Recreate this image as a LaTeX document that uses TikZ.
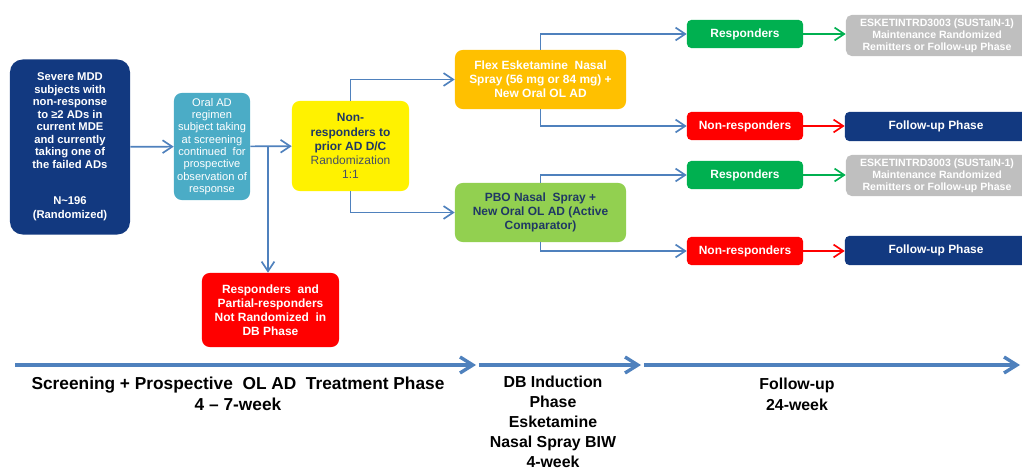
\documentclass[tikz,border=0pt]{standalone}
\usepackage{fontspec}
\setmainfont{Liberation Sans}
\usetikzlibrary{arrows.meta,calc}

\definecolor{navy}{RGB}{18,57,128}
\definecolor{darknavy}{RGB}{31,56,100}
\definecolor{teal}{RGB}{75,172,198}
\definecolor{orangebox}{RGB}{255,192,0}
\definecolor{lightgreen}{RGB}{146,208,80}
\definecolor{greenbox}{RGB}{0,176,80}
\definecolor{graybox}{RGB}{191,191,191}
\definecolor{lineblue}{RGB}{79,129,189}
\definecolor{randgray}{RGB}{70,80,100}

\begin{document}
\begin{tikzpicture}[x=0.025cm, y=-0.025cm,
        box/.style={rectangle, rounded corners=5.5pt, align=center, inner sep=1pt,
                    text=white, font=\bfseries\fontsize{8.5}{10}\selectfont},
        smallbox/.style={box, rounded corners=3pt, minimum width=2.9cm, minimum height=0.7cm},
        arr/.style={draw=lineblue, line width=1.2pt, -{Straight Barb[length=2.4mm,width=3.2mm]}},
        timeline/.style={draw=lineblue, line width=2.4pt, -{Straight Barb[length=3.2mm,width=4mm]}},
        phase/.style={align=center, font=\bfseries\fontsize{11.3}{15}\selectfont}
    ]
        \useasboundingbox (0,0) rectangle (1022,473);
        \clip (0,0) rectangle (1022,473);

        % Screening
        \node[box, fill=navy, rounded corners=9pt, minimum width=3cm, minimum height=4.375cm,
              font=\bfseries\fontsize{8}{8.9}\selectfont] (mdd) at (70,147)
              {Severe MDD\\subjects with\\non-response\\to ≥2 ADs in\\current MDE\\and currently\\taking one of\\the failed ADs\\[17pt]N\textasciitilde196\\[1pt](Randomized)};
        \node[box, fill=teal, minimum width=1.9cm, minimum height=2.675cm,
              font=\fontsize{7.9}{8.8}\selectfont] (oral) at (212,146.5)
              {Oral AD\\regimen\\subject taking\\at screening\\continued\ \ for\\prospective\\observation of\\response};
        \node[box, fill=yellow, text=darknavy, minimum width=2.925cm, minimum height=2.25cm] (nonresp) at (350.5,146)
              {Non-\\responders to\\prior AD D/C\\\textcolor{randgray}{\mdseries Randomization}\\\textcolor{randgray}{\mdseries 1:1}};
        \node[box, fill=red, minimum width=3.425cm, minimum height=1.85cm] (partial) at (270.5,310)
              {Responders\ \ and\\Partial-responders\\Not Randomized\ \ in\\DB Phase};
        \coordinate (split) at (268,146);

        % Induction arms
        \node[box, fill=orangebox, minimum width=4.275cm, minimum height=1.475cm] (flex) at (540.5,79.5)
              {Flex Esketamine\ \ Nasal\\Spray (56 mg or 84 mg) +\\New Oral OL AD};
        \node[box, fill=lightgreen, text=darknavy, minimum width=4.275cm, minimum height=1.475cm] (pbo) at (540.5,212.5)
              {PBO Nasal\ \ Spray +\\New Oral OL AD (Active\\Comparator)};

        % Outcomes
        \node[smallbox, fill=greenbox] (resp1) at (745,34) {Responders};
        \node[smallbox, fill=red] (non1) at (745,126) {Non-responders};
        \node[smallbox, fill=greenbox] (resp2) at (745,175) {Responders};
        \node[smallbox, fill=red] (non2) at (745,251) {Non-responders};

        \node[box, fill=graybox, rounded corners=4pt, minimum width=4.55cm, minimum height=1.025cm,
              font=\bfseries\fontsize{7.5}{8.6}\selectfont] (sust1) at (937,35.5)
              {ESKETINTRD3003 (SUSTaIN-1)\\Maintenance Randomized\\Remitters or Follow-up Phase};
        \node[box, fill=graybox, rounded corners=4pt, minimum width=4.55cm, minimum height=1.025cm,
              font=\bfseries\fontsize{7.5}{8.6}\selectfont] (sust2) at (937,175.5)
              {ESKETINTRD3003 (SUSTaIN-1)\\Maintenance Randomized\\Remitters or Follow-up Phase};
        \node[box, fill=navy, rounded corners=3pt, minimum width=4.55cm, minimum height=0.725cm] (fu1) at (936,126.5) {Follow-up Phase};
        \node[box, fill=navy, rounded corners=3pt, minimum width=4.55cm, minimum height=0.725cm] (fu2) at (936,250.5) {Follow-up Phase};

        % Connectors
        \draw[arr] (mdd) -- (oral);
        \draw[arr] (oral) -- (nonresp);
        \draw[arr] (split) -- (split |- partial.north);
        \draw[arr] (nonresp.north) |- (flex.west);
        \draw[arr] (nonresp.south) |- (pbo.west);
        \draw[arr] (flex.north) |- (resp1.west);
        \draw[arr] (flex.south) |- (non1.west);
        \draw[arr] (pbo.north) |- (resp2.west);
        \draw[arr] (pbo.south) |- (non2.west);
        \draw[arr, draw=greenbox] (resp1) -- (resp1 -| sust1.west);
        \draw[arr, draw=greenbox] (resp2) -- (resp2 -| sust2.west);
        \draw[arr, draw=red] (non1) -- (non1 -| fu1.west);
        \draw[arr, draw=red] (non2) -- (non2 -| fu2.west);

        % Timeline
        \coordinate (t0) at (15,365);
        \coordinate (t1) at (476,365);
        \coordinate (t2) at (641,365);
        \coordinate (t3) at (1020,365);
        \draw[timeline] (t0) -- (t1);
        \draw[timeline] ([xshift=2pt]t1) -- (t2);
        \draw[timeline] ([xshift=2pt]t2) -- (t3);

        \node[phase, anchor=north, font=\bfseries\fontsize{12.3}{15}\selectfont] (scrlabel) at (238,372)
              {Screening + Prospective\ \ OL AD\ \ Treatment Phase\\4 – 7-week};
        \node[phase, anchor=north, font=\bfseries\fontsize{11.3}{14.3}\selectfont] (dblabel) at (553,371)
              {DB Induction\\Phase\\Esketamine\\Nasal Spray BIW\\4-week};
        \node[phase, anchor=north] (fulabel) at (797,373)
              {Follow-up\\24-week};
    \end{tikzpicture}
\end{document}
